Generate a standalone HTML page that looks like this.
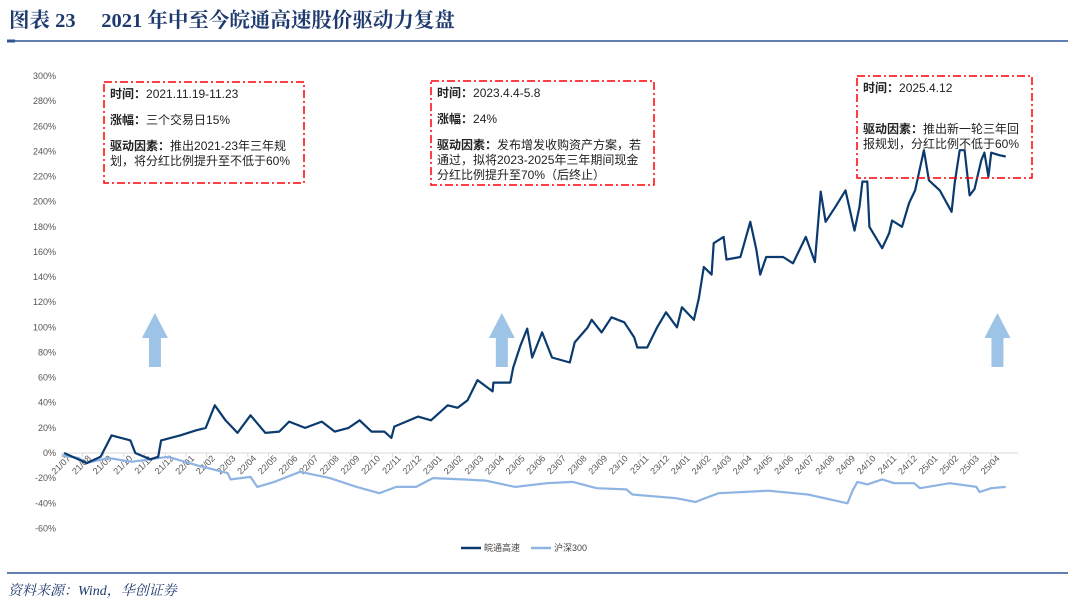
<!DOCTYPE html>
<html><head><meta charset="utf-8">
<style>
body{margin:0;background:#fff;width:1075px;height:605px;overflow:hidden;position:relative;font-family:"Liberation Sans","Noto Sans CJK SC",sans-serif}
.title{position:absolute;left:9px;top:3px;font-family:"Liberation Serif","Noto Serif CJK SC",serif;font-weight:bold;font-size:20.5px;color:#1f3a6e;white-space:pre}
.src{position:absolute;left:8px;top:580px;font-family:"Liberation Serif","Noto Serif CJK SC",serif;font-style:italic;font-size:14px;color:#1f3a6e}
.box{position:absolute;font-size:12px;color:#222;line-height:15px;padding:5px 10px 0 6px;box-sizing:border-box}
.box b{font-weight:bold}
</style></head><body>
<div class="title">图表 23　 2021 年中至今皖通高速股价驱动力复盘</div>
<svg width="1075" height="605" style="position:absolute;left:0;top:0" id="svg">
<line x1="7" y1="41" x2="1068" y2="41" stroke="#2e5597" stroke-width="1.5"/>
<line x1="7" y1="41" x2="15" y2="41" stroke="#2e5597" stroke-width="3"/>
<line x1="7" y1="573" x2="1068" y2="573" stroke="#2e5597" stroke-width="1.5"/>
<g id="axes"></g>
<g id="arrows" fill="#9dc3e6"></g>
<g id="series"></g>
<g font-size="9" fill="#444">
<line x1="461" y1="548" x2="481" y2="548" stroke="#0b3a6e" stroke-width="2.5"/>
<text x="484" y="551">皖通高速</text>
<line x1="531" y1="548" x2="551" y2="548" stroke="#8eb4e3" stroke-width="2.5"/>
<text x="554" y="551">沪深300</text>
</g>
<g fill="none" stroke="#ff0000" stroke-width="1.5" stroke-dasharray="8 3 2 3">
<rect x="104" y="82" width="200" height="101"/>
<rect x="431" y="81" width="223" height="104"/>
<rect x="857" y="76" width="175" height="102"/>
</g>
</svg>
<div class="box" style="left:104px;top:82px;width:200px">
<div><b>时间：</b>2021.11.19-11.23</div><div style="height:11px"></div>
<div><b>涨幅：</b>三个交易日15%</div><div style="height:11px"></div>
<div><b>驱动因素：</b>推出2021-23年三年规划，将分红比例提升至不低于60%</div></div>
<div class="box" style="left:431px;top:81px;width:223px">
<div><b>时间：</b>2023.4.4-5.8</div><div style="height:11px"></div>
<div><b>涨幅：</b>24%</div><div style="height:11px"></div>
<div><b>驱动因素：</b>发布增发收购资产方案，若<br>通过，拟将2023-2025年三年期间现金<br>分红比例提升至70%（后终止）</div></div>
<div class="box" style="left:857px;top:76px;width:175px">
<div><b>时间：</b>2025.4.12</div><div style="height:26px"></div>
<div><b>驱动因素：</b>推出新一轮三年回<br>报规划，分红比例不低于60%</div></div>
<div class="src">资料来源：Wind，华创证券</div>
<script>
const yTicks=[300,280,260,240,220,200,180,160,140,120,100,80,60,40,20,0,-20,-40,-60];
const monthLabels=["21/07","21/08","21/09","21/10","21/11","21/12","22/01","22/02","22/03","22/04","22/05","22/06","22/07","22/08","22/09","22/10","22/11","22/12","23/01","23/02","23/03","23/04","23/05","23/06","23/07","23/08","23/09","23/10","23/11","23/12","24/01","24/02","24/03","24/04","24/05","24/06","24/07","24/08","24/09","24/10","24/11","24/12","25/01","25/02","25/03","25/04"];
const wtMonths=[0.1,1.2,1.87,2.4,3.31,3.55,4.27,4.66,4.8,5.72,6.48,6.96,7.4,7.92,8.5,9.13,9.85,10.52,11.0,11.77,12.58,13.21,13.88,14.41,14.99,15.61,15.95,16.09,17.24,17.87,18.68,19.16,19.64,20.12,20.85,20.89,21.71,21.85,22.19,22.53,22.77,23.25,23.73,24.59,24.83,25.46,25.65,26.13,26.61,27.23,27.71,27.86,28.34,28.82,29.25,29.78,30.02,30.6,30.84,31.08,31.46,31.56,32.04,32.18,32.85,33.33,33.62,33.81,34.1,34.92,35.4,36.02,36.46,36.74,36.98,37.46,37.94,38.38,38.62,38.76,39.0,39.1,39.72,40.06,40.2,40.68,41.02,41.31,41.74,41.98,42.51,43.08,43.23,43.47,43.71,43.95,44.19,44.52,44.67,44.86,45.0,45.39,45.7];
const wtValues=[0,-8,-3,14,10,0,-5,-3,10,14,18,20,38,26,16,30,16,17,25,20,25,17,20,26,17,17,12,21,29,26,38,36,42,58,49,56,56,68,85,99,76,96,76,72,88,100,106,96,108,104,92,84,84,100,112,100,116,106,123,148,142,167,172,154,156,184,162,142,156,156,151,172,152,208,184,196,209,177,196,216,216,180,163,175,185,180,199,209,241,217,209,192,215,241,241,205,210,233,239,220,239,237,236];
const hsMonths=[0,0.82,1.15,2.26,3.36,5.14,6.58,8.02,8.17,9.13,9.46,10.28,11.53,12.97,14.27,15.37,16.19,17.15,17.96,19.4,20.51,21.95,23.49,24.74,25.89,27.33,27.62,29.73,30.69,30.98,31.8,34.2,36.12,38.04,38.28,38.52,39.0,39.72,40.3,41.26,41.55,42.99,44.28,44.43,45.0,45.7];
const hsValues=[-2,-4,-8,-4,-7,-3,-10,-16,-21,-19,-27,-23,-15,-20,-27,-32,-27,-27,-20,-21,-22,-27,-24,-23,-28,-29,-33,-36,-39,-37,-32,-30,-33,-40,-30,-23,-25,-21,-24,-24,-28,-24,-27,-31,-28,-27];
const arrowMonths=[4.5,21.3,45.3];

const X0=62,MW=20.65,Y0=453,PY=1.2565;
const xs=m=>X0+m*MW, ys=v=>Y0-v*PY;
const NS="http://www.w3.org/2000/svg";
function mk(tag,attrs,parent){const e=document.createElementNS(NS,tag);for(const k in attrs)e.setAttribute(k,attrs[k]);parent.appendChild(e);return e;}
const axes=document.getElementById('axes');
yTicks.forEach(v=>{
  const t=mk('text',{x:56,y:ys(v)+3,'text-anchor':'end','font-size':9,fill:'#555'},axes);
  t.textContent=v+'%';
  
  
});
const zl=mk('line',{x1:X0,y1:Y0,x2:1018,y2:Y0,stroke:'#d9d9d9','stroke-width':1},axes);


monthLabels.forEach((s,i)=>{
  const x=xs(i);
  const tk=mk('line',{x1:x,y1:Y0,x2:x,y2:Y0+4,stroke:'#d9d9d9'},axes);
  
  
  const t=mk('text',{x:x+9,y:Y0+6,'text-anchor':'end','font-size':9,fill:'#555',transform:`rotate(-45 ${x+9} ${Y0+6})`},axes);
  t.textContent=s;
  
  
});
const ar=document.getElementById('arrows');
arrowMonths.forEach(m=>{
  const cx=xs(m);
  const p=mk('polygon',{points:`${cx-6},367 ${cx+6},367 ${cx+6},338 ${cx+13},338 ${cx},313 ${cx-13},338 ${cx-6},338`},ar);
  
  
});
const sg=document.getElementById('series');
function line(ms,vs,color,name){
  const d=ms.map((m,i)=>(i?'L':'M')+xs(m).toFixed(1)+','+ys(vs[i]).toFixed(1)).join('');
  const p=mk('path',{d,fill:'none',stroke:color,'stroke-width':2.2,'stroke-linejoin':'round'},sg);
  
  
}
line(hsMonths,hsValues,'#8eb4e3','hs300-line');
line(wtMonths,wtValues,'#0b3a6e','wantong-line');
</script>
</body></html>
